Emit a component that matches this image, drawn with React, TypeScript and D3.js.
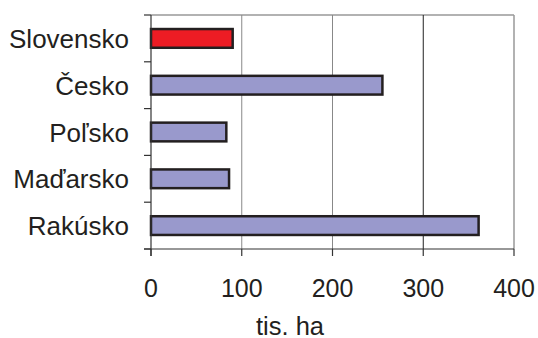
import React from "react";
import * as d3 from "d3";

const categories = ["Slovensko", "Česko", "Poľsko", "Maďarsko", "Rakúsko"];
const values = [90, 255, 83, 86, 361];
const barColors = ["#ED1C24", "#9999CC", "#9999CC", "#9999CC", "#9999CC"];
const xTicks = [0, 100, 200, 300, 400];
const xTitle = "tis. ha";

export default function App() {
  const W = 538, H = 338;
  const left = 151, right = 514, top = 15, bottom = 249;
  const x = d3.scaleLinear().domain([0, 400]).range([left, right]);
  const y = d3.scaleBand<string>().domain(categories).range([top, bottom]).paddingInner(0.6).paddingOuter(0.3);
  const step = (bottom - top) / categories.length;
  const font = "'Liberation Sans', Arial, sans-serif";
  return (
    <svg width={W} height={H} style={{ position: "absolute", left: 0, top: 0 }}>
      <rect width={W} height={H} fill="#fff" />
      {/* plot border */}
      <line x1={left} x2={right} y1={top} y2={top} stroke="#999" strokeWidth={1.5} />
      <line x1={right} x2={right} y1={top} y2={bottom} stroke="#999" strokeWidth={1.5} />
      {xTicks.slice(1, -1).map((t, i) => (
        <line key={t} x1={x(t)} x2={x(t)} y1={top} y2={bottom} stroke={i === 2 ? "#222" : "#888"} strokeWidth={1} />
      ))}
      {categories.map((c, i) => (
        <rect key={c} x={x(0)} y={y(c)} width={x(values[i]) - x(0)} height={y.bandwidth()}
          fill={barColors[i]} stroke="#231F20" strokeWidth={2.5} />
      ))}
      {/* axes */}
      <line x1={left} x2={left} y1={top} y2={bottom + 7} stroke="#333" strokeWidth={1.2} />
      <line x1={left - 7} x2={right} y1={bottom} y2={bottom} stroke="#333" strokeWidth={1.2} />
      {d3.range(categories.length + 1).map(i => (
        <line key={i} x1={left - 7} x2={left} y1={top + i * step} y2={top + i * step} stroke="#333" strokeWidth={1.2} />
      ))}
      {xTicks.map(t => (
        <g key={t}>
          <line x1={x(t)} x2={x(t)} y1={bottom} y2={bottom + 7} stroke="#333" strokeWidth={1.2} />
          <text x={x(t)} y={297} textAnchor="middle" fontFamily={font} fontSize={25} fill="#231F20">{t}</text>
        </g>
      ))}
      {categories.map(c => (
        <text key={c} x={129} y={(y(c) as number) + y.bandwidth() / 2 + 9.5} textAnchor="end"
          fontFamily={font} fontSize={26} fill="#231F20">{c}</text>
      ))}
      <text x={290} y={335} textAnchor="middle" fontFamily={font} fontSize={25.5} fill="#231F20">{xTitle}</text>
    </svg>
  );
}
